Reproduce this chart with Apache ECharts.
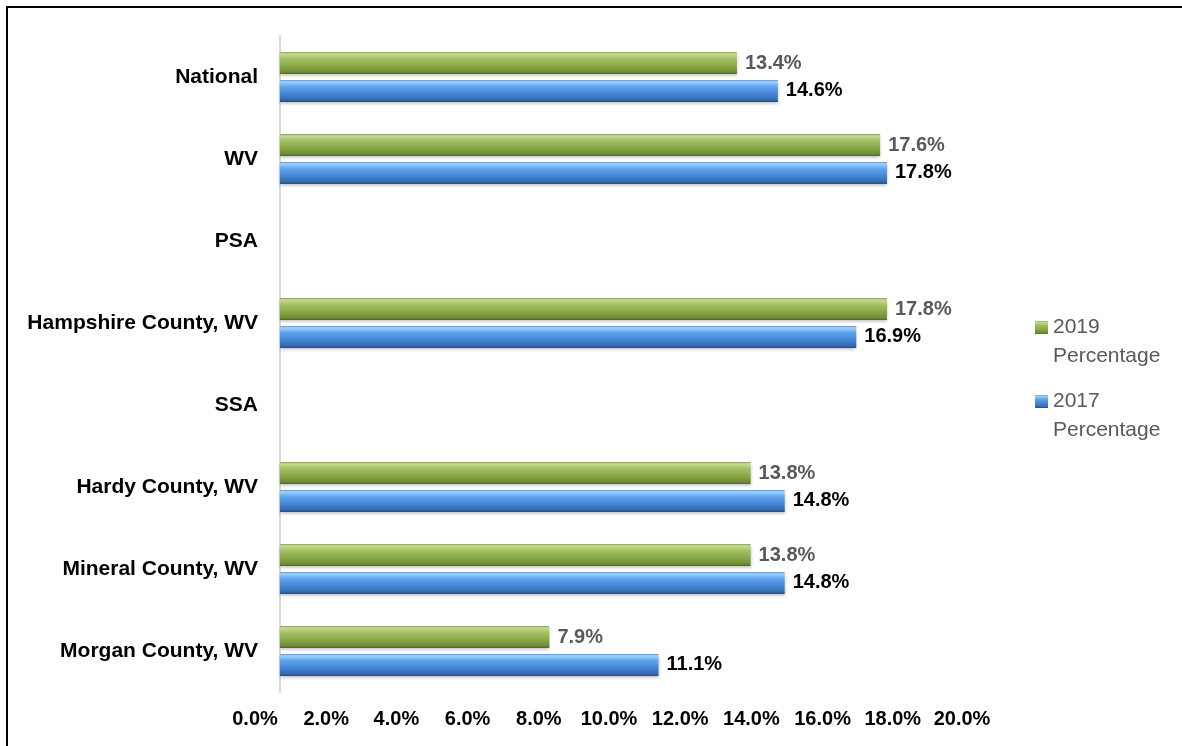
<!DOCTYPE html>
<html>
<head>
<meta charset="utf-8">
<script src="https://cdn.jsdelivr.net/npm/echarts@6/dist/echarts.min.js"></script>
<style>
  html, body { margin: 0; padding: 0; background: #fff; overflow: hidden; }
  #frame { position: absolute; left: 6px; top: 6px; width: 1200px; height: 760px; border-left: 2px solid #000; border-top: 2px solid #000; }
  #chart { position: absolute; left: 0; top: 0; width: 1182px; height: 746px; }
</style>
</head>
<body>
<div id="frame"></div>
<div id="chart"></div>
<script>
const categories = ['National', 'WV', 'PSA', 'Hampshire County, WV', 'SSA', 'Hardy County, WV', 'Mineral County, WV', 'Morgan County, WV'];
const series2019 = [13.4, 17.6, null, 17.8, null, 13.8, 13.8, 7.9];
const series2017 = [14.6, 17.8, null, 16.9, null, 14.8, 14.8, 11.1];
const seriesNames = ['2019 Percentage', '2017 Percentage'];
const xTicks = [0, 2, 4, 6, 8, 10, 12, 14, 16, 18, 20];

const FONT = "'Liberation Sans', Arial, sans-serif";

function grad(stops) {
  return new echarts.graphic.LinearGradient(0, 0, 0, 1, stops.map((c) => ({ offset: c[0], color: c[1] })));
}
const greenFill = grad([[0, '#8a9a5b'], [0.08, '#c6dd8e'], [0.3, '#a3c163'], [0.65, '#86a645'], [0.9, '#6f8c36'], [1, '#4f6626']]);
const blueFill = grad([[0, '#5b8fc8'], [0.08, '#9fd2ff'], [0.3, '#62a6ee'], [0.65, '#4484d3'], [0.9, '#3569b0'], [1, '#244c82']]);

// shift of the x tick labels so they sit like in the original picture
const richX = {};
xTicks.forEach((t, i) => {
  const s = Math.max(0, Math.round(25 - 2.7 * i));
  richX['p' + i] = { padding: [0, 2 * s, 0, 0] };
});

const legendBase = {
  orient: 'vertical', left: 1035,
  itemWidth: 13, itemHeight: 13, itemGap: 0, padding: 0,
  formatter: (n) => '\n' + n.replace(' ', '\n'),
  textStyle: { color: '#595959', fontSize: 21, lineHeight: 29, fontFamily: FONT },
  icon: 'rect'
};

const chart = echarts.init(document.getElementById('chart'), null, { renderer: 'canvas' });
chart.setOption({
  animation: false,
  backgroundColor: 'transparent',
  textStyle: { fontFamily: FONT },
  grid: { left: 280, width: 682, top: 36, height: 656, containLabel: false },
  xAxis: {
    type: 'value', min: 0, max: 20, interval: 2,
    axisLine: { show: false }, axisTick: { show: false }, splitLine: { show: false },
    axisLabel: {
      margin: 17, color: '#000', fontWeight: 'bold', fontSize: 20, fontFamily: FONT,
      formatter: (v) => {
        const i = xTicks.indexOf(v);
        return '{p' + i + '|' + v.toFixed(1) + '%}';
      },
      rich: richX
    }
  },
  yAxis: {
    type: 'category', data: categories, inverse: true,
    axisLine: { show: true, lineStyle: { color: '#d9d9d9', width: 2 } },
    axisTick: { show: false },
    axisLabel: { margin: 22, color: '#000', fontWeight: 'bold', fontSize: 21, fontFamily: FONT }
  },
  legend: [
    Object.assign({}, legendBase, { data: [seriesNames[0]], top: 284 }),
    Object.assign({}, legendBase, { data: [seriesNames[1]], top: 358 })
  ],
  series: [
    {
      name: seriesNames[0], type: 'bar', data: series2019,
      barWidth: 22, barGap: '27%',
      itemStyle: { color: greenFill, shadowColor: 'rgba(0,0,0,0.25)', shadowBlur: 3, shadowOffsetY: 2 },
      label: {
        show: true, position: 'right', distance: 8,
        color: '#595959', fontWeight: 'bold', fontSize: 20, fontFamily: FONT,
        formatter: (p) => p.value == null ? '' : p.value.toFixed(1) + '%'
      }
    },
    {
      name: seriesNames[1], type: 'bar', data: series2017,
      barWidth: 22, barGap: '27%',
      itemStyle: { color: blueFill, shadowColor: 'rgba(0,0,0,0.25)', shadowBlur: 3, shadowOffsetY: 2 },
      label: {
        show: true, position: 'right', distance: 8,
        color: '#000', fontWeight: 'bold', fontSize: 20, fontFamily: FONT,
        formatter: (p) => p.value == null ? '' : p.value.toFixed(1) + '%'
      }
    }
  ]
});
</script>
</body>
</html>
